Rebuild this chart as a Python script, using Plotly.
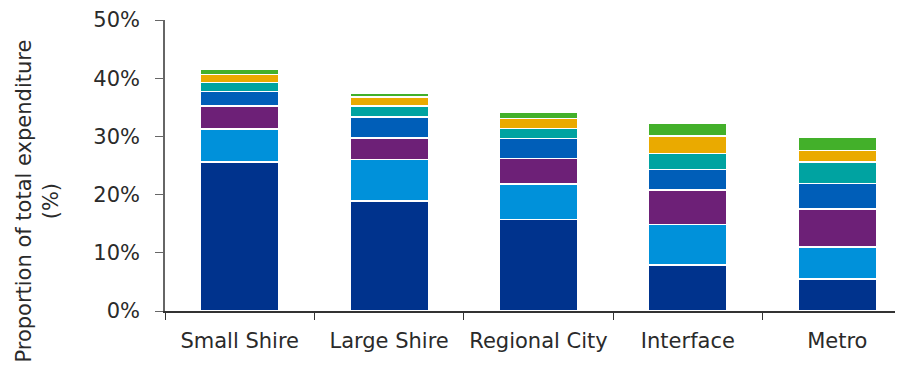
import plotly.graph_objects as go

categories = ["Small Shire", "Large Shire", "Regional City", "Interface", "Metro"]

series_1 = [25.6, 18.9, 15.7, 7.9, 5.5]
series_2 = [5.7, 7.1, 6.1, 7.0, 5.5]
series_3 = [3.9, 3.7, 4.4, 5.9, 6.5]
series_4 = [2.5, 3.6, 3.4, 3.5, 4.4]
series_5 = [1.6, 1.9, 1.8, 2.8, 3.7]
series_6 = [1.3, 1.6, 1.7, 3.0, 2.0]
series_7 = [0.9, 0.7, 1.0, 2.2, 2.2]

series_names = ["Series 1", "Series 2", "Series 3", "Series 4", "Series 5", "Series 6", "Series 7"]
series_values = [series_1, series_2, series_3, series_4, series_5, series_6, series_7]
colors = ["#00338D", "#0091DA", "#6D2077", "#005EB8", "#00A3A1", "#EAAA00", "#43B02A"]

y_ticks = [0, 10, 20, 30, 40, 50]
y_tick_labels = ["0%", "10%", "20%", "30%", "40%", "50%"]
y_title = "Proportion of total expenditure<br>(%)"

fig = go.Figure()
for name, vals, col in zip(series_names, series_values, colors):
    fig.add_trace(go.Bar(
        x=categories, y=vals, name=name,
        marker=dict(color=col, line=dict(color="white", width=1.5)),
        showlegend=False,
    ))

font_family = "DejaVu Sans, Arial, sans-serif"
text_color = "#2a2a2a"
fs = 21
fig.update_layout(
    barmode="stack",
    bargap=0.475,
    width=895, height=359,
    margin=dict(l=157, r=0, t=12, b=56, autoexpand=False),
    plot_bgcolor="white", paper_bgcolor="white",
    font=dict(family=font_family, size=fs, color=text_color),
)
fig.update_xaxes(
    range=[-0.5, 4.44],
    automargin=False,
    tickangle=0,
    showline=True, linecolor="#333333", linewidth=1.5,
    ticks="outside", tickson="boundaries", ticklen=7, tickcolor="#333333",
    ticklabelstandoff=10,
    tickfont=dict(size=fs, color=text_color),
    showgrid=False,
)
fig.update_yaxes(
    range=[0, 50],
    automargin=False,
    tickmode="array", tickvals=y_ticks, ticktext=y_tick_labels,
    showline=True, linecolor="#666666", linewidth=1.5,
    ticks="outside", ticklen=8, tickcolor="#666666",
    ticklabelstandoff=11,
    tickfont=dict(size=fs, color=text_color),
    showgrid=False, zeroline=False,
)
fig.add_annotation(
    text=y_title, textangle=-90,
    xref="paper", yref="paper", x=-0.174, y=0.378,
    xanchor="center", yanchor="middle", showarrow=False,
    font=dict(size=fs, color=text_color),
)

fig.write_html("out.html")
